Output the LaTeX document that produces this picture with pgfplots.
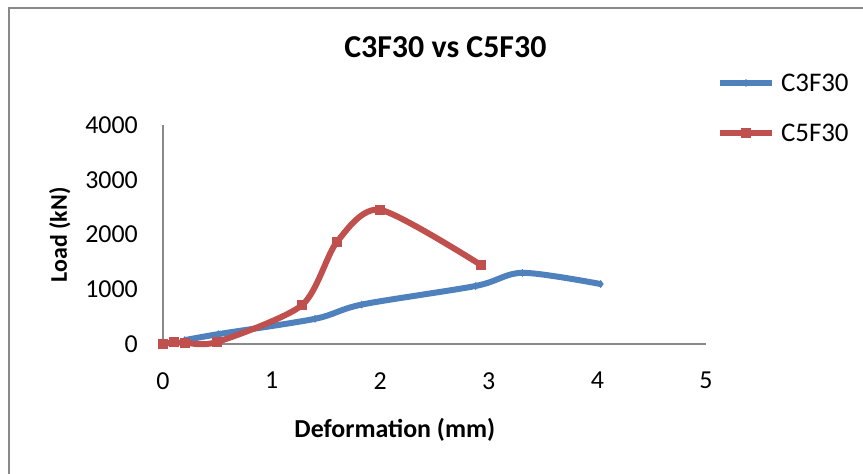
\documentclass[border=0pt]{standalone}
\usepackage{fontspec}
\setmainfont{Carlito}
\usepackage{pgfplots}
\pgfplotsset{compat=1.18}
\definecolor{xblue}{HTML}{4F81BD}
\definecolor{xred}{HTML}{C0504D}
\definecolor{axgray}{HTML}{898989}
\begin{document}
\begin{tikzpicture}[x=1bp,y=1bp]
\path[use as bounding box] (0,0) rectangle (863,474);
\draw[axgray, line width=1.6bp] (9,0) -- (9,466) -- (863,466);
\begin{axis}[
  at={(163bp,130bp)}, anchor=south west,
  scale only axis, width=543bp, height=219bp,
  xmin=0, xmax=5, ymin=0, ymax=4000,
  axis x line*=bottom, axis y line*=left,
  axis line style={axgray, line width=2bp, -},
  xtick={0,1,2,3,4,5}, ytick={0,1000,2000,3000,4000},
  major tick length=0pt,
  tick label style={font=\fontsize{26}{30}\selectfont, black},
  /pgf/number format/assume math mode=true,
  /pgf/number format/1000 sep={},
  xticklabel style={anchor=north, inner sep=0pt, yshift=-28bp},
  yticklabel style={anchor=east, inner sep=0pt, xshift=-25bp},
  title={C3F30 vs C5F30},
  title style={at={(rel axis cs:0.52,1.33)}, anchor=center, font=\bfseries\fontsize{32}{36}\selectfont},
  xlabel={Deformation (mm)},
  xlabel style={at={(rel axis cs:0.427,-0.393)}, anchor=center, font=\bfseries\fontsize{26}{30}\selectfont},
  ylabel={Load (kN)},
  ylabel style={at={(rel axis cs:-0.19,0.498)}, anchor=center, font=\bfseries\fontsize{24}{28}\selectfont},
  clip=false,
  legend style={draw=none, fill=none, at={(rel axis cs:1.0203,1.233)}, anchor=north west,
    inner sep=0pt, outer sep=0pt, row sep=32bp,
    nodes={inner sep=0pt, text height=18bp, text depth=0bp, font=\fontsize{27}{31}\selectfont},
    /tikz/every odd column/.style={column sep=6bp}},
  legend cell align=left,
  legend image code/.code={\draw[mark repeat=2, mark phase=2, #1] plot coordinates {(0bp,0bp) (26bp,0bp) (52bp,0bp)};},
]
\addplot[xblue, line width=6bp, smooth, tension=0.5, mark=diamond*, mark size=3.2bp, mark options={solid, fill=xblue, line width=1bp}]
  coordinates {(0.2,70) (0.51,180) (1.4,460) (1.83,720) (2.88,1060) (3.31,1300) (4.03,1095)};
\addlegendentry{C3F30}
\addplot[xred, line width=6bp, smooth, tension=0.45, mark=square*, mark size=4.5bp, mark options={solid, fill=xred, line width=1bp}]
  coordinates {(0,0) (0.1,30) (0.2,22) (0.5,38) (1.28,710) (1.6,1860) (2.0,2450) (2.93,1440)};
\addlegendentry{C5F30}
\end{axis}
\end{tikzpicture}
\end{document}
